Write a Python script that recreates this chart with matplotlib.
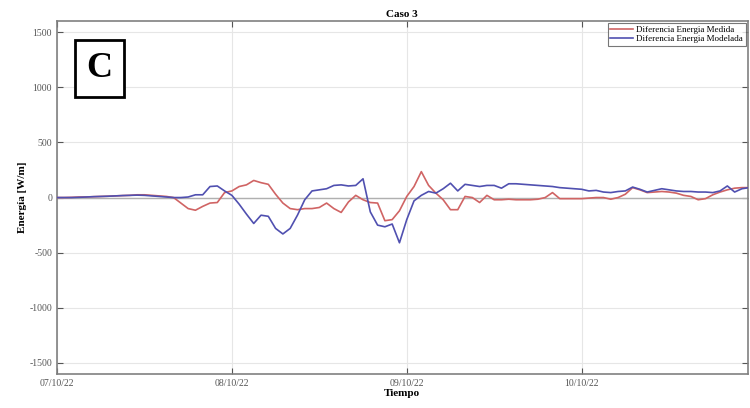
import matplotlib
matplotlib.use("Agg")
import matplotlib.pyplot as plt
import numpy as np

plt.rcParams['font.family'] = ['Liberation Serif', 'DejaVu Serif']

# hours since 07/10/22 00:00 (hourly data)
hours = list(range(96))

medida = [0, 0, 2, 5, 5, 8, 10, 12, 15, 18, 20, 25, 25, 20, 15, 10,
          0, -50, -100, -115, -80, -50, -45, 45, 60, 100, 115, 155, 135, 120, 30, -50,
          -100, -110, -100, -100, -90, -50, -100, -135, -40, 20, -20, -45, -50, -210, -200, -120,
          10, 100, 235, 110, 40, -20, -110, -110, 10, 0, -45, 20, -20, -20, -15, -20,
          -20, -20, -15, 0, 45, -10, -10, -10, -10, -5, 0, 0, -15, 0, 30, 90,
          70, 45, 50, 55, 50, 40, 20, 10, -20, -10, 25, 50, 70, 85, 90, 90]

modelada = [0, 0, 0, 2, 5, 8, 10, 12, 15, 18, 20, 22, 20, 15, 10, 5,
            0, 0, 5, 25, 25, 100, 105, 60, 20, -60, -150, -235, -160, -170, -280, -330,
            -280, -160, -20, 60, 70, 80, 110, 115, 105, 110, 170, -130, -250, -265, -240, -410,
            -200, -30, 20, 55, 40, 80, 130, 60, 120, 110, 100, 110, 110, 85, 125, 125,
            120, 115, 110, 105, 100, 90, 85, 80, 75, 60, 65, 50, 45, 55, 60, 95,
            75, 50, 65, 80, 70, 60, 55, 55, 50, 50, 45, 60, 105, 50, 80, 90]

xtick_pos = [0, 24, 48, 72]
xtick_labels = ["07/10/22", "08/10/22", "09/10/22", "10/10/22"]
ytick_vals = [-1500, -1000, -500, 0, 500, 1000, 1500]

fig = plt.figure(figsize=(7.5, 4.08), dpi=100)
ax = fig.add_axes([0.076, 0.0833, 0.921, 0.865])

ax.axhline(0, color='#b0b0b0', lw=1.0, zorder=1)
ax.plot(hours, medida, color='#d06464', lw=1.2, label='Diferencia Energia Medida', zorder=3)
ax.plot(hours, modelada, color='#5050b0', lw=1.2, label='Diferencia Energia Modelada', zorder=3)

ax.set_xlim(0, 94.8)
ax.set_ylim(-1600, 1600)
ax.set_xticks(xtick_pos)
ax.set_xticklabels(xtick_labels)
ax.set_yticks(ytick_vals)
ax.set_yticklabels([str(v) for v in ytick_vals])
ax.tick_params(direction='in', length=4, width=0.8, colors='#555555', labelsize=7,
               top=True, right=True, labelcolor='#555555')
ax.grid(True, color='#e6e6e6', lw=0.8)
ax.set_axisbelow(True)
for s in ax.spines.values():
    s.set_color('#808080')
    s.set_linewidth(1.2)

ax.set_title('Caso 3', fontsize=8, fontweight='bold', pad=3)
ax.set_xlabel('Tiempo', fontsize=8, fontweight='bold', labelpad=1)
ax.set_ylabel('Energía [W/m]', fontsize=8, fontweight='bold', labelpad=2)

leg = ax.legend(loc='upper right', fontsize=6.5, frameon=True, fancybox=False,
                edgecolor='#555555', borderpad=0.3, labelspacing=0.1,
                handlelength=2.5, handletextpad=0.4, borderaxespad=0.2)
leg.get_frame().set_linewidth(0.8)

ax.text(0.0615, 0.865, 'C', transform=ax.transAxes, fontsize=26, fontweight='bold',
        ha='center', va='center',
        bbox=dict(boxstyle='square,pad=0.33', facecolor='white', edgecolor='black', lw=2))

fig.savefig('out.png', dpi=100)
